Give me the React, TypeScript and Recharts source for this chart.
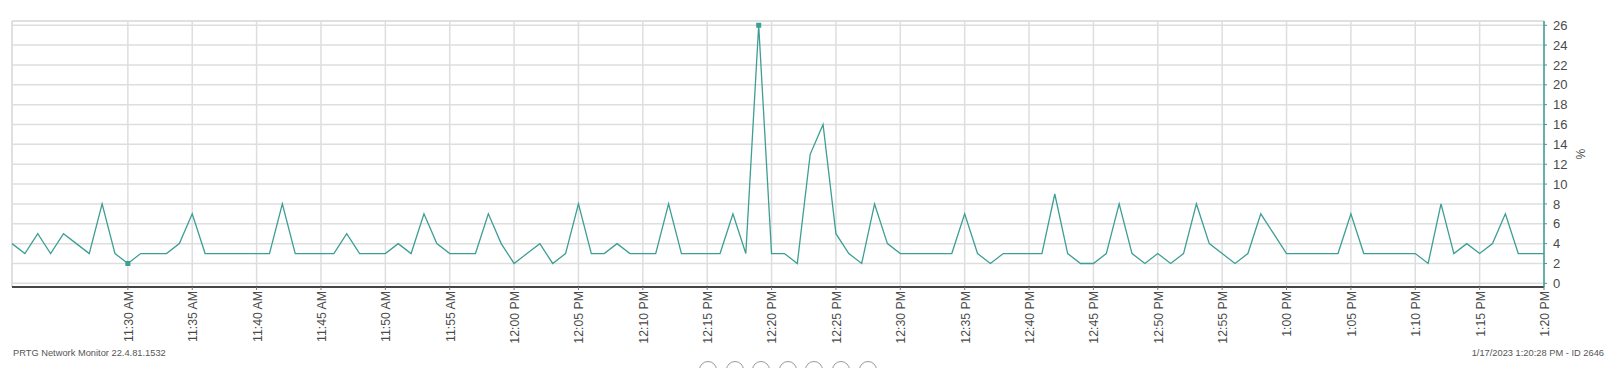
import React from "react";
import {
  LineChart,
  Line,
  XAxis,
  YAxis,
  CartesianGrid,
  ReferenceLine,
} from "recharts";

// one reading per minute, starting at 11:21 AM
const START_TIME = "11:21 AM";

const cpuLoad = [
  4, 3, 5, 3, 5, 4, 3, 8, 3, 2,
  3, 3, 3, 4, 7, 3, 3, 3, 3, 3,
  3, 8, 3, 3, 3, 3, 5, 3, 3, 3,
  4, 3, 7, 4, 3, 3, 3, 7, 4, 2,
  3, 4, 2, 3, 8, 3, 3, 4, 3, 3,
  3, 8, 3, 3, 3, 3, 7, 3, 26, 3,
  3, 2, 13, 16, 5, 3, 2, 8, 4, 3,
  3, 3, 3, 3, 7, 3, 2, 3, 3, 3,
  3, 9, 3, 2, 2, 3, 8, 3, 2, 3,
  2, 3, 8, 4, 3, 2, 3, 7, 5, 3,
  3, 3, 3, 3, 7, 3, 3, 3, 3, 3,
  2, 8, 3, 4, 3, 4, 7, 3, 3, 3,
];

const xTickLabels = [
  "11:30 AM", "11:35 AM", "11:40 AM", "11:45 AM", "11:50 AM", "11:55 AM",
  "12:00 PM", "12:05 PM", "12:10 PM", "12:15 PM", "12:20 PM", "12:25 PM",
  "12:30 PM", "12:35 PM", "12:40 PM", "12:45 PM", "12:50 PM", "12:55 PM",
  "1:00 PM", "1:05 PM", "1:10 PM", "1:15 PM", "1:20 PM",
];

const yTicks = [0, 2, 4, 6, 8, 10, 12, 14, 16, 18, 20, 22, 24, 26];

const LINE = "#3d9e94";
const GRID = "#dedede";
const TEXT = "#4a4a4a";
const FONT = "'Liberation Sans', Arial, sans-serif";

const toMinutes = (label: string) => {
  const [hm, ampm] = label.split(" ");
  const [h, m] = hm.split(":").map(Number);
  const h24 = (h % 12) + (ampm === "PM" ? 12 : 0);
  return h24 * 60 + m;
};

const toLabel = (min: number) => {
  const h24 = Math.floor(min / 60);
  const m = min % 60;
  const h = h24 % 12 === 0 ? 12 : h24 % 12;
  return `${h}:${String(m).padStart(2, "0")} ${h24 >= 12 ? "PM" : "AM"}`;
};

const start = toMinutes(START_TIME);
const data = cpuLoad.map((v, i) => ({ t: start + i, value: v }));
const xTicks = xTickLabels.map(toMinutes);
const xMin = data[0].t;
const xMax = data[data.length - 1].t;
const yDomain: [number, number] = [-0.37, 26.43];

const minIdx = cpuLoad.indexOf(Math.min(...cpuLoad));
const maxIdx = cpuLoad.indexOf(Math.max(...cpuLoad));

const renderDot = (props: any) => {
  const { cx, cy, index } = props;
  if (index !== minIdx && index !== maxIdx) return <g key={`d-${index}`} />;
  return (
    <rect key={`d-${index}`} x={cx - 2.5} y={cy - 2.5} width={5} height={5} fill={LINE} />
  );
};

const XTick = (props: any) => {
  const { x, y, payload } = props;
  return (
    <g transform={`translate(${x},${y})`}>
      <text
        transform="rotate(-90)"
        textAnchor="end"
        dy="0.4em"
        fontSize={12.3}
        fontFamily={FONT}
        fill={TEXT}
      >
        {toLabel(payload.value)}
      </text>
    </g>
  );
};

const navButtons = [0, 1, 2, 3, 4, 5, 6];

export default function App() {
  return (
    <div
      style={{
        position: "absolute",
        left: 0,
        top: 0,
        width: 1624,
        height: 368,
        background: "#fff",
        overflow: "hidden",
        fontFamily: FONT,
      }}
    >
      <LineChart
        width={1624}
        height={368}
        data={data}
        margin={{ top: 21, right: 0, bottom: 0, left: 12 }}
      >
        <CartesianGrid stroke={GRID} strokeWidth={1.5} />
        <ReferenceLine y={yDomain[1]} stroke={GRID} strokeWidth={1.5} />
        <ReferenceLine x={xMin} stroke={GRID} strokeWidth={1.5} />
        <XAxis
          dataKey="t"
          type="number"
          domain={[xMin, xMax]}
          ticks={xTicks}
          interval={0}
          height={81}
          axisLine={{ stroke: "#111", strokeWidth: 1.5 }}
          tickLine={{ stroke: "#777" }}
          tickSize={3}
          tickMargin={1}
          tick={<XTick />}
        />
        <YAxis
          orientation="right"
          width={80}
          domain={yDomain}
          ticks={yTicks}
          interval={0}
          allowDataOverflow
          axisLine={{ stroke: LINE, strokeWidth: 1.5 }}
          tickLine={{ stroke: LINE }}
          tickSize={3}
          tickMargin={6}
          tick={{ fontSize: 13, fontFamily: FONT, fill: TEXT }}
          label={{
            value: "%",
            angle: 90,
            position: "center",
            dx: -4,
            fontSize: 12,
            fontFamily: FONT,
            fill: TEXT,
          }}
        />
        <Line
          type="linear"
          dataKey="value"
          stroke={LINE}
          strokeWidth={1.3}
          dot={renderDot}
          activeDot={false}
          isAnimationActive={false}
        />
      </LineChart>
      <div
        style={{
          position: "absolute",
          left: 13,
          top: 348,
          fontSize: 9.3,
          color: "#555",
          whiteSpace: "nowrap",
        }}
      >
        PRTG Network Monitor 22.4.81.1532
      </div>
      <div
        style={{
          position: "absolute",
          right: 20,
          top: 348,
          fontSize: 9.3,
          color: "#555",
          whiteSpace: "nowrap",
        }}
      >
        1/17/2023 1:20:28 PM - ID 2646
      </div>
      {navButtons.map((i) => (
        <div
          key={i}
          style={{
            position: "absolute",
            left: 699 + i * 26.6,
            top: 361,
            width: 18,
            height: 18,
            borderRadius: "50%",
            border: "1px solid #999",
            boxSizing: "border-box",
          }}
        />
      ))}
    </div>
  );
}
